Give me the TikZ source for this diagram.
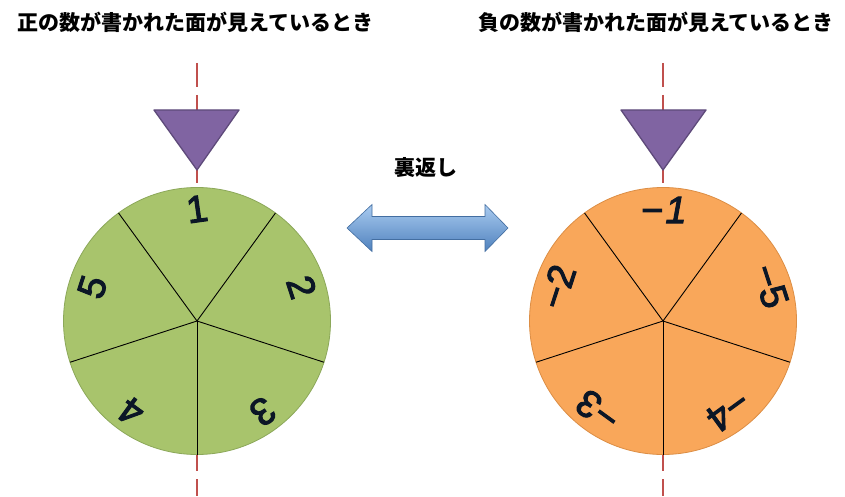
\documentclass[tikz,border=0pt]{standalone}
\usepackage{fontspec}
\setmainfont{Liberation Sans}
\newfontfamily\cjk{Noto Sans CJK JP}
\newfontfamily\numfont[FakeBold=2.6]{Liberation Sans}
\newfontfamily\numfontit[FakeBold=2.6, FakeSlant=0.18]{Liberation Sans}
\definecolor{mgreen}{HTML}{A8C46C}
\definecolor{mgreenD}{HTML}{8CA85A}
\definecolor{morange}{HTML}{F9A75A}
\definecolor{morangeD}{HTML}{DC8E45}
\definecolor{mpurple}{HTML}{8064A2}
\definecolor{mpurpleD}{HTML}{5E4A7A}
\definecolor{maxis}{HTML}{C0504D}
\definecolor{marrowT}{HTML}{A9CBF0}
\definecolor{marrowB}{HTML}{4F81BD}
\definecolor{mink}{HTML}{0B1626}
\begin{document}
\begin{tikzpicture}[x=1pt,y=1pt,
  title/.style={font=\cjk\bfseries\fontsize{21}{24}\selectfont, inner sep=0pt},
  num/.style={font=\numfont\fontsize{38}{40}\selectfont, inner sep=0pt, text=mink},
  spoke/.style={line width=0.9pt, draw=black},
  axisline/.style={draw=maxis, line width=2.5pt, dash pattern=on 24pt off 8pt},
  marker/.style={fill=mpurple, draw=mpurpleD, line width=1.3pt, line join=round},
  disc/.style={line width=0.8pt}]
\useasboundingbox (0,0) rectangle (845,496);
\fill[white] (0,0) rectangle (845,496);

% titles
\node[title] (tl) at (195.5,473.5) {正の数が書かれた面が見えているとき};
\node[title] (tr) at (656,473.5) {負の数が書かれた面が見えているとき};
\node[title] (flip) at (426,328.5) {裏返し};

% centres and axis lines
\coordinate (cl) at (197,175);
\coordinate (cr) at (663,175);
\coordinate (lt) at (197,433);
\coordinate (lb) at (197,0);
\coordinate (rt) at (663,433);
\coordinate (rb) at (663,0);
\draw[axisline] (lt) -- (lb);
\draw[axisline] (rt) -- (rb);

% left disc
\draw[disc, fill=mgreen, draw=mgreenD] (cl) circle (133.5);
\foreach \a in {54,126,198,270,342} \draw[spoke] (cl) -- ++(\a:133.5);
\path (cl) ++(90:112) node[num, rotate=8] (l1) {1};
\path (cl) ++(18:110) node[num, rotate=-72] (l2) {2};
\path (cl) ++(-54:112) node[num, rotate=-144] (l3) {3};
\path (cl) ++(-126:112) node[num, rotate=144] (l4) {4};
\path (cl) ++(162:110) node[num, rotate=72] (l5) {5};

% right disc
\draw[disc, fill=morange, draw=morangeD] (cr) circle (133.5);
\foreach \a in {54,126,198,270,342} \draw[spoke] (cr) -- ++(\a:133.5);
\path (cr) ++(90:111) node[num] (r1) {−{\numfontit 1}};
\path (cr) ++(18:113) node[num, rotate=-72] (r5) {−5};
\path (cr) ++(-54:111) node[num, rotate=-144] (r4) {−4};
\path (cr) ++(-126:111) node[num, rotate=144] (r3) {−3};
\path (cr) ++(162:111) node[num, rotate=72] (r2) {−2};

% markers
\draw[marker] (154,386) -- (239,386) -- (197,326) -- cycle;
\draw[marker] (621,386) -- (706,386) -- (663,326) -- cycle;

% double arrow
\shade[top color=marrowT, bottom color=marrowB, draw=marrowB!85!black, line width=0.6pt, line join=miter]
  (347,268) -- (372,291.5) -- (372,279.5) -- (485,279.5) -- (485,291.5) -- (508,268)
  -- (485,244.5) -- (485,256.5) -- (372,256.5) -- (372,244.5) -- cycle;
\end{tikzpicture}
\end{document}
